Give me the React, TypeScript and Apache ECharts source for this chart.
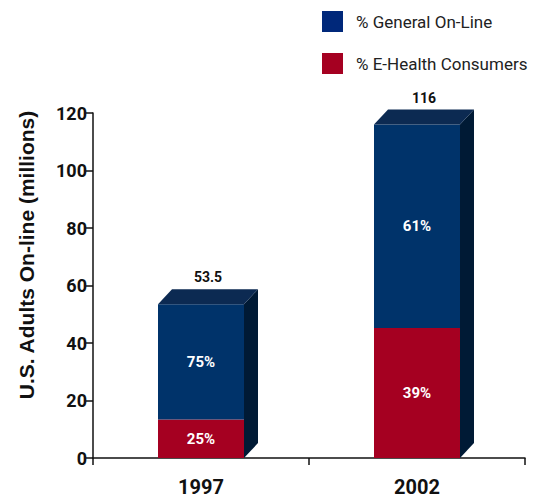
import React, { useEffect, useRef } from "react";
import * as echarts from "echarts";

// Categories and values
const years = ["1997", "2002"];
const totals = [53.5, 116];
const generalShare = [75, 61];
const eHealthShare = [25, 39];
const yTicks = { min: 0, max: 120, interval: 20 };
const yTitle = "U.S. Adults On-line (millions)";

const SERIES_GENERAL = "% General On-Line";
const SERIES_EHEALTH = "% E-Health Consumers";

const BLUE = "#00336a";
const RED = "#a50021";
const SIDE = "#001a35";
const TOP = "#0c2a52";
const BAR_W = 86;
const DX = 14;
const DY = 15;
const FONT = "Roboto, 'Liberation Sans', Arial, sans-serif";
const NAME_FONT = "'Liberation Sans', Arial, sans-serif";

const eHealthValues = totals.map((t, i) => (t * eHealthShare[i]) / 100);
const generalValues = totals.map((t, i) => (t * generalShare[i]) / 100);

export default function App() {
  const ref = useRef<HTMLDivElement>(null);

  useEffect(() => {
    if (!ref.current) return;
    const chart = echarts.init(ref.current, undefined, { renderer: "svg" });

    const pctLabel = (shares: number[]) => ({
      show: true,
      position: "inside",
      color: "#fff",
      fontWeight: "bold",
      fontSize: 15,
      fontFamily: FONT,
      formatter: (p: any) => `${shares[p.dataIndex]}%`,
    });

    chart.setOption({
      animation: false,
      backgroundColor: "#fff",
      grid: { left: 93, right: 11, top: 113, bottom: 40 },
      legend: {
        orient: "vertical",
        left: 322,
        top: 11,
        padding: 0,
        itemWidth: 21,
        itemHeight: 21,
        itemGap: 21,
        icon: "rect",
        textStyle: { fontSize: 17, color: "#222", fontFamily: FONT, padding: [0, 0, 0, 8] },
        data: [
          { name: SERIES_GENERAL, itemStyle: { color: "#00287a" } },
          { name: SERIES_EHEALTH, itemStyle: { color: RED } },
        ],
      },
      // vertical axis title, set a little above the axis midpoint
      graphic: [
        {
          type: "text",
          x: 26,
          y: 255,
          rotation: Math.PI / 2,
          style: {
            text: yTitle,
            align: "center",
            verticalAlign: "middle",
            fontSize: 21,
            fontWeight: "bold",
            fontFamily: NAME_FONT,
            fill: "#111",
          },
        },
      ],
      xAxis: {
        type: "category",
        data: years,
        boundaryGap: true,
        axisLine: { lineStyle: { color: "#111", width: 1.5 } },
        axisTick: { show: true, length: 7, lineStyle: { color: "#111", width: 1.5 } },
        axisLabel: { color: "#111", fontSize: 20, fontWeight: "bold", fontFamily: FONT, margin: 19 },
      },
      yAxis: {
        type: "value",
        min: yTicks.min,
        max: yTicks.max,
        interval: yTicks.interval,
        axisLine: { show: true, lineStyle: { color: "#111", width: 1.5 } },
        axisTick: { show: true, length: 7, lineStyle: { color: "#111", width: 1.5 } },
        axisLabel: { color: "#111", fontSize: 18, fontWeight: "bold", fontFamily: FONT, margin: 6 },
        splitLine: { show: false },
      },
      series: [
        {
          name: SERIES_EHEALTH,
          type: "bar",
          stack: "total",
          barWidth: BAR_W,
          itemStyle: { color: RED },
          label: pctLabel(eHealthShare),
          data: eHealthValues,
        },
        {
          name: SERIES_GENERAL,
          type: "bar",
          stack: "total",
          barWidth: BAR_W,
          itemStyle: { color: BLUE },
          label: pctLabel(generalShare),
          data: generalValues,
        },
        {
          name: "depth",
          type: "custom",
          coordinateSystem: "cartesian2d",
          encode: { x: 0, y: 1 },
          data: totals.map((t, i) => [i, t]),
          z: 3,
          renderItem: (_params: any, api: any) => {
            const i = api.value(0);
            const v = api.value(1);
            const topPt = api.coord([i, v]);
            const basePt = api.coord([i, 0]);
            const l = topPt[0] - BAR_W / 2;
            const r = topPt[0] + BAR_W / 2;
            const t = topPt[1];
            const b = basePt[1];
            return {
              type: "group",
              children: [
                {
                  type: "polygon",
                  shape: { points: [[r, t], [r + DX, t - DY], [r + DX, b - DY], [r, b]] },
                  style: { fill: SIDE },
                },
                {
                  type: "polygon",
                  shape: { points: [[l, t], [l + DX, t - DY], [r + DX, t - DY], [r, t]] },
                  style: { fill: TOP },
                },
                {
                  type: "text",
                  x: (l + r + DX) / 2,
                  y: t - DY - 5,
                  style: {
                    text: String(v),
                    align: "center",
                    verticalAlign: "bottom",
                    fontSize: 14,
                    fontWeight: "bold",
                    fontFamily: FONT,
                    fill: "#111",
                  },
                },
              ],
            };
          },
        },
      ],
    });

    return () => chart.dispose();
  }, []);

  return <div ref={ref} style={{ width: 536, height: 498, position: "absolute", left: 0, top: 0 }} />;
}
